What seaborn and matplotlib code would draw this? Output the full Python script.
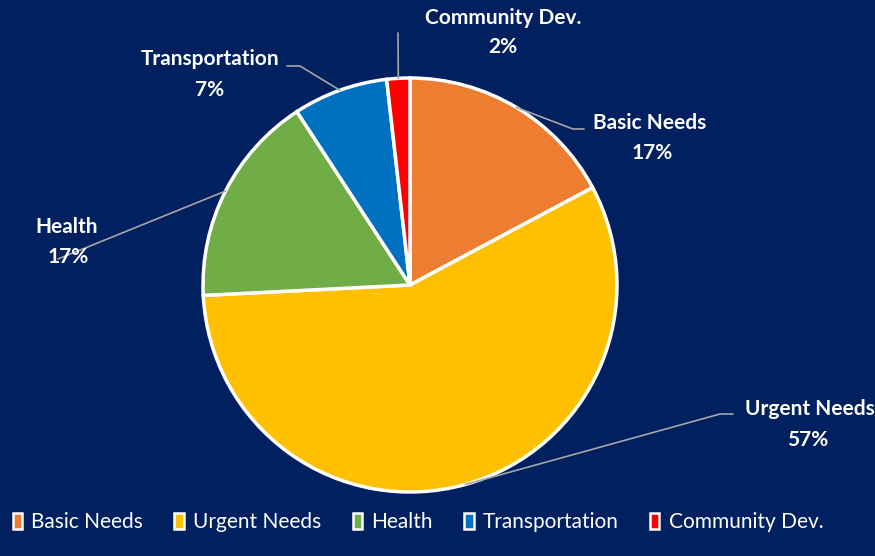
import matplotlib
matplotlib.use('Agg')
import numpy as np
import matplotlib.pyplot as plt
import seaborn as sns
from matplotlib.patches import Patch
from matplotlib.lines import Line2D

# ---- data ----
categories = ['Basic Needs', 'Urgent Needs', 'Health', 'Transportation', 'Community Dev.']
shares = [17.2, 57.0, 16.6, 7.4, 1.8]
colors = ['#ED7D31', '#FFC000', '#70AD47', '#0070C0', '#FF0000']

bg = '#002060'
line_col = '#A6A6A6'

sns.set_style('dark')
plt.rcParams['font.family'] = ['Lato', 'DejaVu Sans']

W, H = 875, 556
fig = plt.figure(figsize=(W / 100, H / 100), dpi=100, facecolor=bg)

# pie centre / radius in pixels
cx, cy, r = 410, 285, 207
ax = fig.add_axes([(cx - r) / W, (H - cy - r) / H, 2 * r / W, 2 * r / H])
ax.set_facecolor(bg)
wedges, _ = ax.pie(shares, colors=colors, startangle=90, counterclock=False,
                   wedgeprops=dict(edgecolor='white', linewidth=2.5))
for w in wedges:
    w.set_clip_on(False)
ax.set_xlim(-1, 1)
ax.set_ylim(-1, 1)
ax.set_aspect('equal')
ax.axis('off')

def fx(px):
    return px / W

def fy(py):
    return 1 - py / H

# label positions (pixels from top-left): name, percent, leader path
label_layout = [
    ((650, 123), (652, 153), [(573, 129), (584, 129)]),
    ((810, 409), (808, 440), [(720, 414), (733, 414)]),
    ((67, 227), (68, 257), [(58, 259)]),
    ((210, 59), (210, 90), [(300, 66), (287, 66)]),
    ((503, 18), (503, 47), [(398, 33)]),
]

total = sum(shares)
for w, name, val, (npos, ppos, path) in zip(wedges, categories, shares, label_layout):
    mid = np.deg2rad((w.theta1 + w.theta2) / 2)
    ex, ey = ax.transData.transform((np.cos(mid), np.sin(mid)))
    xs = [ex / W] + [fx(p[0]) for p in path]
    ys = [ey / H] + [fy(p[1]) for p in path]
    fig.add_artist(Line2D(xs, ys, color=line_col, lw=1.2, transform=fig.transFigure, zorder=1))
    fig.text(fx(npos[0]), fy(npos[1]), name, color='white', fontsize=15,
             fontweight='bold', ha='center', va='center', zorder=3)
    fig.text(fx(ppos[0]), fy(ppos[1]), f'{round(val / total * 100):.0f}%', color='white',
             fontsize=15, fontweight='bold', ha='center', va='center', zorder=3)

handles = [Patch(facecolor=c, edgecolor='white', linewidth=1.8) for c in colors]
fig.legend(handles, categories, loc='center', bbox_to_anchor=(fx(418), fy(522)),
           ncol=5, frameon=False, labelcolor='white', fontsize=15,
           handlelength=0.45, handleheight=0.8, handletextpad=0.45, columnspacing=1.5)

fig.savefig('out.png', dpi=100, facecolor=bg)
